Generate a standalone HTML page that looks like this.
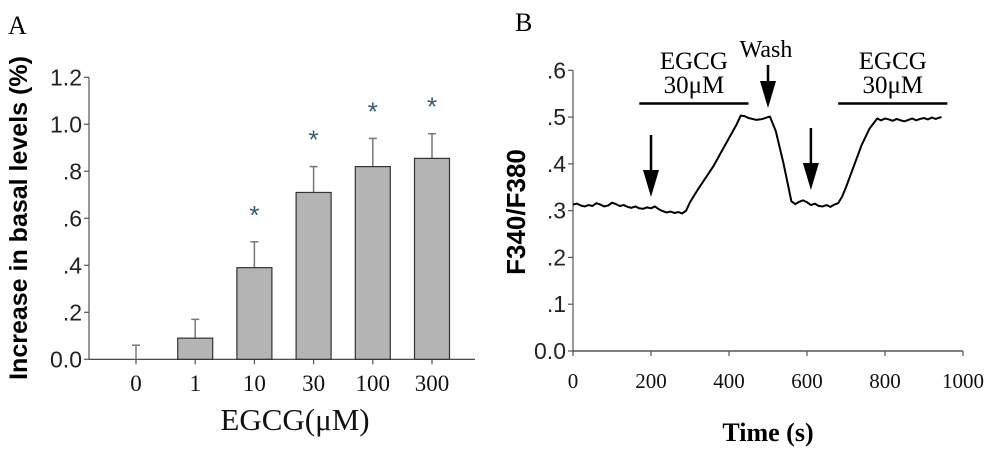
<!DOCTYPE html>
<html><head><meta charset="utf-8"><style>
html,body{margin:0;padding:0;background:#fff;width:1000px;height:452px;overflow:hidden}
svg{display:block}
.ser{font-family:"Liberation Serif",serif}
.san{font-family:"Liberation Sans",sans-serif}
</style></head><body>
<svg id="fig" width="1000" height="452" viewBox="0 0 1000 452" xmlns="http://www.w3.org/2000/svg">
<text x="8" y="34" class="ser" font-size="26">A</text>
<text x="515" y="31" class="ser" font-size="26">B</text>
<g id="pa"></g>
<g id="pb"></g>
</svg>
<script>
const catsA = ["0","1","10","30","100","300"];
const meansA = [0, 0.09, 0.39, 0.71, 0.82, 0.855];
const errsA = [0.06, 0.08, 0.11, 0.11, 0.12, 0.105];
const sigA = [false, false, true, true, true, true];
const yTicksA = [0, 0.2, 0.4, 0.6, 0.8, 1.0, 1.2];
const yTickLabelsA = ["0.0", ".2", ".4", ".6", ".8", "1.0", "1.2"];

const timeB = [0,10,20,30,40,50,60,70,80,90,100,110,120,130,140,150,160,170,180,190,200,210,220,230,240,250,260,270,280,290,300,320,340,360,380,400,420,430,440,450,460,470,480,490,500,505,520,540,560,570,580,590,600,610,620,630,640,650,660,670,680,690,700,720,740,760,780,790,800,810,820,830,840,850,860,870,880,890,900,910,920,930,940,945];
const valsB = [0.313,0.315,0.311,0.309,0.312,0.310,0.316,0.313,0.309,0.311,0.317,0.314,0.310,0.312,0.308,0.306,0.309,0.305,0.304,0.307,0.305,0.309,0.303,0.299,0.296,0.298,0.295,0.297,0.294,0.300,0.318,0.345,0.370,0.395,0.425,0.455,0.485,0.503,0.502,0.498,0.496,0.494,0.495,0.497,0.500,0.501,0.470,0.400,0.320,0.314,0.319,0.322,0.318,0.312,0.315,0.310,0.309,0.312,0.308,0.313,0.316,0.330,0.350,0.395,0.440,0.475,0.497,0.493,0.497,0.495,0.492,0.496,0.493,0.491,0.494,0.497,0.493,0.496,0.498,0.495,0.499,0.496,0.499,0.500];
const xTicksB = [0,200,400,600,800,1000];
const yTicksB = [0,0.1,0.2,0.3,0.4,0.5,0.6];
const yTickLabelsB = ["0.0",".1",".2",".3",".4",".5",".6"];
const barsB = [[170,450],[680,960]];
const arrowsB = [200, 500, 610];

const NS="http://www.w3.org/2000/svg";
function mk(parent, tag, attrs, txt){const e=document.createElementNS(NS,tag);for(const k in attrs)e.setAttribute(k,attrs[k]);if(txt!==undefined)e.textContent=txt;parent.appendChild(e);return e;}

// Panel A
const pa=document.getElementById('pa');
const ax0=89, ax1=475, ay0=359.3, ay1=77.3;
const yA=v=>ay0-(v/1.2)*(ay0-ay1);
const step=59.2, xA=i=>136+i*step, bw=35;
let e;
e=mk(pa,'line',{x1:ax0,y1:ay1,x2:ax0,y2:ay0,stroke:'#555','stroke-width':1.2});


e=mk(pa,'line',{x1:ax0,y1:ay0,x2:ax1,y2:ay0,stroke:'#333','stroke-width':1.2});


yTicksA.forEach((t,i)=>{
  mk(pa,'line',{x1:ax0-5,y1:yA(t),x2:ax0,y2:yA(t),stroke:'#555','stroke-width':1.2});
  e=mk(pa,'text',{x:82,y:yA(t)+8,'text-anchor':'end','font-size':23,class:'san',fill:'#222'},yTickLabelsA[i]);
  
  
});
catsA.forEach((c,i)=>{
  const x=xA(i);
  mk(pa,'line',{x1:x,y1:ay0,x2:x,y2:ay0+5,stroke:'#555','stroke-width':1.2});
  e=mk(pa,'text',{x:x,y:391,'text-anchor':'middle','font-size':23,class:'ser',fill:'#111'},c);
  
  
  const top=yA(meansA[i]+errsA[i]);
  e=mk(pa,'line',{x1:x,y1:top,x2:x,y2:yA(meansA[i]),stroke:'#777','stroke-width':1.5});
  
  
  mk(pa,'line',{x1:x-4,y1:top,x2:x+4,y2:top,stroke:'#777','stroke-width':1.5});
  if(meansA[i]>0){
    e=mk(pa,'rect',{x:x-bw/2,y:yA(meansA[i]),width:bw,height:ay0-yA(meansA[i]),fill:'#b4b4b4',stroke:'#333','stroke-width':1.2});
    
    
  }
  if(sigA[i]){
    e=mk(pa,'text',{x:x,y:top-18,'text-anchor':'middle','font-size':26,class:'san',fill:'#3a5a70'},'*');
    
    
  }
});
e=mk(pa,'text',{x:295,y:430,'text-anchor':'middle','font-size':31,class:'ser',fill:'#111'},'EGCG(μM)');


e=mk(pa,'text',{x:0,y:0,transform:'translate(27,218) rotate(-90)','text-anchor':'middle','font-size':25,'font-weight':'bold',class:'san',fill:'#000'},'Increase in basal levels (%)');



// Panel B
const pb=document.getElementById('pb');
const bx0=573, bx1=963, by0=351, by1=70.3;
const xB=t=>bx0+t/1000*(bx1-bx0);
const yB=v=>by0-v/0.6*(by0-by1);
e=mk(pb,'line',{x1:bx0,y1:by1,x2:bx0,y2:by0,stroke:'#555','stroke-width':1.2});


e=mk(pb,'line',{x1:bx0,y1:by0,x2:bx1,y2:by0,stroke:'#333','stroke-width':1.2});


yTicksB.forEach((t,i)=>{
  mk(pb,'line',{x1:bx0-5,y1:yB(t),x2:bx0,y2:yB(t),stroke:'#555','stroke-width':1.2});
  e=mk(pb,'text',{x:566,y:yB(t)+8,'text-anchor':'end','font-size':23,class:'san',fill:'#222'},yTickLabelsB[i]);
  
  
});
xTicksB.forEach(t=>{
  mk(pb,'line',{x1:xB(t),y1:by0,x2:xB(t),y2:by0+5,stroke:'#555','stroke-width':1.2});
  e=mk(pb,'text',{x:xB(t),y:388,'text-anchor':'middle','font-size':21,class:'ser',fill:'#111'},String(t));
  
  
});
e=mk(pb,'polyline',{points:timeB.map((t,i)=>xB(t)+','+yB(valsB[i])).join(' '),fill:'none',stroke:'#000','stroke-width':2,'stroke-linejoin':'round'});


barsB.forEach(b=>{
  e=mk(pb,'line',{x1:xB(b[0]),y1:yB(0.529),x2:xB(b[1]),y2:yB(0.529),stroke:'#000','stroke-width':2.5});
  
  
  const cx=xB((b[0]+b[1])/2);
  e=mk(pb,'text',{x:cx,y:69,'text-anchor':'middle','font-size':25,class:'ser'},'EGCG');
  
  
  e=mk(pb,'text',{x:cx,y:93,'text-anchor':'middle','font-size':25,class:'ser'},'30μM');
  
  
});
e=mk(pb,'text',{x:xB(495),y:57,'text-anchor':'middle','font-size':24,class:'ser'},'Wash');


const arrY=[[135,197],[65,108],[128,190]];
arrowsB.forEach((t,i)=>{
  const x=xB(t),a=arrY[i][0],b=arrY[i][1];
  e=mk(pb,'line',{x1:x,y1:a,x2:x,y2:b-25,stroke:'#000','stroke-width':2.5});
  
  
  mk(pb,'polygon',{points:(x-8)+','+(b-27)+' '+(x+8)+','+(b-27)+' '+x+','+b,fill:'#000'});
});
e=mk(pb,'text',{x:768,y:441,'text-anchor':'middle','font-size':26,'font-weight':'bold',class:'ser'},'Time (s)');


e=mk(pb,'text',{x:0,y:0,transform:'translate(525,212) rotate(-90)','text-anchor':'middle','font-size':26,'font-weight':'bold',class:'san'},'F340/F380');


</script>
</body></html>
